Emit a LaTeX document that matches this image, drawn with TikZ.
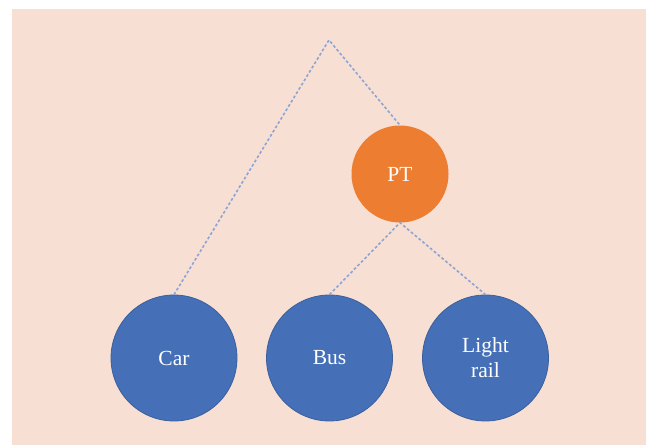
\documentclass[tikz,border=0pt]{standalone}
\usepackage{fontspec}
\setmainfont{Liberation Serif}
\usepackage{xcolor}
\usepackage{tikz}
\definecolor{bg}{HTML}{F8DFD4}
\definecolor{mode}{HTML}{4570B8}
\definecolor{modeedge}{HTML}{3A5F9E}
\definecolor{nest}{HTML}{ED7D31}
\definecolor{branch}{HTML}{8AA5D4}
\tikzset{
  branchline/.style={draw=branch, line width=1.6pt, dash pattern=on 2.8pt off 2.2pt},
  modenode/.style={circle, fill=mode, draw=modeedge, line width=0.8pt,
    minimum size=126pt, inner sep=0pt, text=white, align=center,
    font=\fontsize{21.5}{25}\selectfont},
  nestnode/.style={circle, fill=nest, minimum size=97pt, inner sep=0pt,
    text=white, font=\fontsize{21.5}{25}\selectfont}
}

\begin{document}
\begin{tikzpicture}[x=1pt, y=-1pt]
  \useasboundingbox (0,0) rectangle (646,445);
  \fill[bg] (12,9) rectangle (646,445);

  \coordinate (root) at (329,40);
  \node[nestnode] (pt) at (400,174) {PT};
  \node[modenode] (car) at (174,358) {Car};
  \node[modenode] (bus) at (329.5,358) {Bus};
  \node[modenode] (rail) at (485.5,358) {Light\\rail};

  % upper split
  \draw[branchline] (car.north) -- (root) -- (pt.north);
  % lower split under PT
  \draw[branchline] (bus.north) -- (pt.south) -- (rail.north);
\end{tikzpicture}
\end{document}
